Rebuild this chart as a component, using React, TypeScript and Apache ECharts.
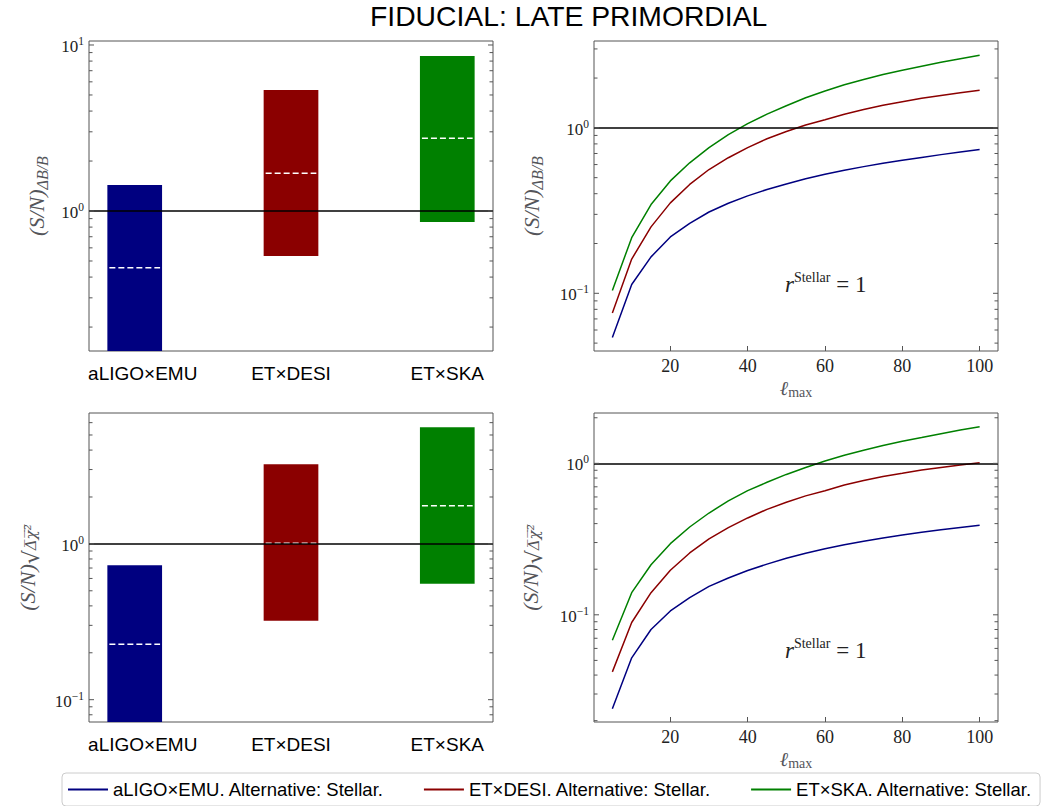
import React, { useEffect, useRef } from "react";
import * as echarts from "echarts";

// ---------- data ----------
const categories = ["aLIGO×EMU", "ET×DESI", "ET×SKA"];
const seriesNames = [
  "aLIGO×EMU. Alternative: Stellar.",
  "ET×DESI. Alternative: Stellar.",
  "ET×SKA. Alternative: Stellar.",
];
const colors = ["#000080", "#8b0000", "#008000"];

// top-left: (S/N)_{ΔB/B} ranges per experiment pair
const dbLow = [0.05, 0.536, 0.859];
const dbHigh = [1.435, 5.36, 8.59];
const dbMid = [0.456, 1.69, 2.74];
// bottom-left: (S/N)_{sqrt(Δχ²)} ranges
const chiLow = [0.03, 0.321, 0.554];
const chiHigh = [0.73, 3.24, 5.6];
const chiMid = [0.227, 1.01, 1.76];

const lmax = [5, 10, 15, 20, 25, 30, 35, 40, 45, 50, 55, 60, 65, 70, 75, 80, 85, 90, 95, 100];
const dbEMU = [0.054, 0.113, 0.166, 0.219, 0.265, 0.31, 0.35, 0.388, 0.424, 0.458, 0.492, 0.525, 0.555, 0.583, 0.611, 0.637, 0.663, 0.689, 0.714, 0.739];
const dbDESI = [0.076, 0.161, 0.252, 0.352, 0.455, 0.56, 0.66, 0.76, 0.86, 0.95, 1.04, 1.12, 1.21, 1.29, 1.37, 1.44, 1.51, 1.57, 1.63, 1.69];
const dbSKA = [0.104, 0.217, 0.344, 0.478, 0.615, 0.76, 0.91, 1.06, 1.21, 1.36, 1.52, 1.67, 1.82, 1.96, 2.1, 2.23, 2.36, 2.49, 2.62, 2.75];
const chiEMU = [0.024, 0.052, 0.08, 0.106, 0.13, 0.154, 0.175, 0.196, 0.216, 0.236, 0.255, 0.273, 0.29, 0.306, 0.322, 0.337, 0.351, 0.364, 0.377, 0.39];
const chiDESI = [0.042, 0.089, 0.14, 0.197, 0.256, 0.317, 0.376, 0.436, 0.497, 0.553, 0.61, 0.66, 0.72, 0.77, 0.82, 0.86, 0.905, 0.94, 0.975, 1.01];
const chiSKA = [0.068, 0.14, 0.214, 0.295, 0.38, 0.47, 0.565, 0.66, 0.75, 0.845, 0.94, 1.035, 1.13, 1.22, 1.31, 1.4, 1.48, 1.57, 1.66, 1.745];

// axis limits and ticks
const barXRange = [-0.2925, 2.2925];
const lXRange = [0.25, 104.75];
const lTicks = [20, 40, 60, 80, 100];
const yRangeTL = [0.1435, 10.57];
const yRangeTR = [0.0448, 3.35];
const yRangeBL = [0.0719, 6.92];
const yRangeBR = [0.0196, 2.15];
const majorTL = [1, 10];
const minorTL = [0.2, 0.3, 0.4, 0.5, 0.6, 0.7, 0.8, 0.9, 2, 3, 4, 5, 6, 7, 8, 9];
const majorTR = [0.1, 1];
const minorTR = [0.05, 0.06, 0.07, 0.08, 0.09, 0.2, 0.3, 0.4, 0.5, 0.6, 0.7, 0.8, 0.9, 2, 3];
const majorBL = [0.1, 1];
const minorBL = [0.08, 0.09, 0.2, 0.3, 0.4, 0.5, 0.6, 0.7, 0.8, 0.9, 2, 3, 4, 5, 6];
const majorBR = [0.1, 1];
const minorBR = [0.02, 0.03, 0.04, 0.05, 0.06, 0.07, 0.08, 0.09, 0.2, 0.3, 0.4, 0.5, 0.6, 0.7, 0.8, 0.9, 2];

const SERIF = "'Liberation Serif', 'DejaVu Serif', serif";
const SANS = "'Liberation Sans', 'DejaVu Sans', sans-serif";
const SPINE = "#555555";

const tickRich = {
  b: { fontFamily: SERIF, fontSize: 17, lineHeight: 20, verticalAlign: "bottom", fill: "#222" },
  s: { fontFamily: SERIF, fontSize: 11.5, lineHeight: 20, verticalAlign: "top", fill: "#222" },
};

function powLabel(v: number) {
  const e = Math.round(Math.log10(v));
  return `{b|10}{s|${e < 0 ? "\u2212" + -e : e}}`;
}

function tickRender(params: any, api: any) {
  const cs = params.coordSys;
  const v = api.value(1);
  const major = api.value(2) === 1;
  const y = api.coord([api.value(0), v])[1];
  const len = major ? 5 : 3.5;
  const st = { stroke: SPINE, lineWidth: 1 };
  const children: any[] = [
    { type: "line", shape: { x1: cs.x, y1: y, x2: cs.x + len, y2: y }, style: st },
    { type: "line", shape: { x1: cs.x + cs.width - len, y1: y, x2: cs.x + cs.width, y2: y }, style: st },
  ];
  if (major) {
    children.push({
      type: "text",
      x: cs.x - 5,
      y,
      style: { text: powLabel(v), align: "right", verticalAlign: "middle", rich: tickRich },
    });
  }
  return { type: "group", children };
}

function barRender(params: any, api: any) {
  const cs = params.coordSys;
  const x = api.value(0);
  const low = api.value(1);
  const high = api.value(2);
  const mid = api.value(3);
  const pL = api.coord([x - 0.175, low]);
  const pR = api.coord([x + 0.175, high]);
  const pM = api.coord([x, mid]);
  const bottom = Math.min(pL[1], cs.y + cs.height);
  const top = Math.max(pR[1], cs.y);
  return {
    type: "group",
    children: [
      { type: "rect", shape: { x: pL[0], y: top, width: pR[0] - pL[0], height: bottom - top }, style: { fill: colors[params.dataIndex] } },
      {
        type: "line",
        shape: { x1: pL[0] + 2, y1: pM[1], x2: pR[0] - 2, y2: pM[1] },
        style: { stroke: "#ffffff", lineWidth: 1.5, lineDash: [6, 3] },
      },
    ],
  };
}

const unityLine = {
  silent: true,
  symbol: ["none", "none"],
  label: { show: false },
  lineStyle: { color: "#000", width: 1.6, type: "solid" },
  data: [{ yAxis: 1 }],
};

function tickData(xv: number, major: number[], minor: number[]) {
  return [...major.map((v) => [xv, v, 1]), ...minor.map((v) => [xv, v, 0])];
}

const nameRichDB = {
  i: { fontFamily: SERIF, fontStyle: "italic", fontSize: 22, fill: "#222" },
  s: { fontFamily: SERIF, fontStyle: "italic", fontSize: 16, fill: "#222", padding: [11, 0, 0, 0] },
};
const nameRichChi = {
  i: { fontFamily: SERIF, fontStyle: "italic", fontSize: 22, fill: "#222" },
  r: { fontFamily: "'DejaVu Serif', serif", fontSize: 22, fill: "#222", padding: [8, 0, 0, 0] },
  s: { fontFamily: "'DejaVu Serif', serif", fontStyle: "italic", fontSize: 15, fill: "#222", padding: [8, 0, 0, 0] },
};
const lRich = {
  l: { fontFamily: "'DejaVu Serif', serif", fontStyle: "italic", fontSize: 20, fill: "#222" },
  s: { fontFamily: SERIF, fontSize: 14, fill: "#222", padding: [8, 0, 0, 0] },
};
const annRich = {
  i: { fontFamily: SERIF, fontStyle: "italic", fontSize: 23, fill: "#222", verticalAlign: "bottom", lineHeight: 26 },
  s: { fontFamily: SERIF, fontSize: 14, fill: "#222", verticalAlign: "top", lineHeight: 26 },
  n: { fontFamily: SERIF, fontSize: 23, fill: "#222", verticalAlign: "bottom", lineHeight: 26 },
};

function xBar(gridIndex: number) {
  return {
    type: "value",
    gridIndex,
    min: barXRange[0],
    max: barXRange[1],
    axisLine: { show: false },
    axisTick: { show: false },
    splitLine: { show: false },
    axisLabel: {
      customValues: [0, 1, 2],
      formatter: (v: number) => {
        const i = Math.round(v);
        return i === 0 ? `{p|${categories[i]}}` : `{q|${categories[i]}}`;
      },
      rich: {
        p: { fontFamily: SANS, fontSize: 19, color: "#000", padding: [0, 0, 0, 16] },
        q: { fontFamily: SANS, fontSize: 19, color: "#000" },
      },
      fontFamily: SANS,
      fontSize: 19,
      color: "#000",
      margin: 13,
    },
  };
}
function xL(gridIndex: number) {
  return {
    type: "value",
    gridIndex,
    min: lXRange[0],
    max: lXRange[1],
    axisLine: { show: false },
    splitLine: { show: false },
    axisTick: { show: true, inside: true, length: 5, customValues: lTicks, lineStyle: { color: SPINE } },
    axisLabel: { customValues: lTicks, fontFamily: SERIF, fontSize: 18, color: "#222", margin: 6 },
    name: "{l|ℓ}{s|max}",
    nameLocation: "middle",
    nameGap: 26,
    nameTextStyle: { rich: lRich },
  };
}
function yLog(gridIndex: number, r: number[], name: string, gap: number, rich: any) {
  return {
    type: "log",
    logBase: 10,
    gridIndex,
    min: r[0],
    max: r[1],
    axisLine: { show: false },
    axisTick: { show: false },
    axisLabel: { show: false },
    splitLine: { show: false },
    name,
    nameLocation: "middle",
    nameGap: gap,
    nameTextStyle: { rich },
  };
}

function lineSeries(name: string, color: string, vals: number[], ax: number, mark: boolean) {
  return {
    type: "line",
    name,
    xAxisIndex: ax,
    yAxisIndex: ax,
    symbol: "none",
    color,
    lineStyle: { color, width: 1.5 },
    data: lmax.map((l, i) => [l, vals[i]]),
    z: 3,
    ...(mark ? { markLine: unityLine } : {}),
  };
}

export default function App() {
  const ref = useRef<HTMLDivElement>(null);
  useEffect(() => {
    if (!ref.current) return;
    const chart = echarts.init(ref.current, undefined, { renderer: "svg" });
    const gridBase = { show: true, borderColor: SPINE, borderWidth: 1, backgroundColor: "transparent", containLabel: false };
    const option: any = {
      animation: false,
      backgroundColor: "#fff",
      title: {
        text: "FIDUCIAL: LATE PRIMORDIAL",
        left: 370,
        top: 2,
        padding: 0,
        textStyle: { fontFamily: SANS, fontSize: 28.3, fontWeight: "normal", color: "#000" },
      },
      legend: {
        data: seriesNames.map((n) => ({ name: n, icon: "rect" })),
        left: 62,
        top: 773,
        orient: "horizontal",
        itemWidth: 40,
        itemHeight: 2,
        itemGap: 40,
        padding: [7, 8, 7, 6],
        borderColor: "#cccccc",
        borderWidth: 1,
        borderRadius: 4,
        textStyle: { fontFamily: SANS, fontSize: 18.5, color: "#000" },
      },
      grid: [
        { ...gridBase, left: 89, top: 41, width: 404, height: 310 },
        { ...gridBase, left: 594, top: 41, width: 404, height: 310 },
        { ...gridBase, left: 89, top: 413, width: 404, height: 309 },
        { ...gridBase, left: 594, top: 413, width: 404, height: 309 },
      ],
      xAxis: [xBar(0), xL(1), xBar(2), xL(3)],
      yAxis: [
        yLog(0, yRangeTL, "{i|(S/N)}{s|ΔB/B}", 39, nameRichDB),
        yLog(1, yRangeTR, "{i|(S/N)}{s|ΔB/B}", 49, nameRichDB),
        yLog(2, yRangeBL, "{i|(S/N)}{r|√}{s|Δ̅χ̅²̅}", 47, nameRichChi),
        yLog(3, yRangeBR, "{i|(S/N)}{r|√}{s|Δ̅χ̅²̅}", 49, nameRichChi),
      ],
      graphic: [
        { type: "text", left: 785, top: 270, style: { text: "{i|r}{s|Stellar}{n| = 1}", rich: annRich } },
        { type: "text", left: 785, top: 636, style: { text: "{i|r}{s|Stellar}{n| = 1}", rich: annRich } },
      ],
      series: [
        {
          type: "custom",
          name: "barsDB",
          xAxisIndex: 0,
          yAxisIndex: 0,
          renderItem: barRender,
          encode: { x: 0, y: [1, 2, 3] },
          data: categories.map((c, i) => [i, dbLow[i], dbHigh[i], dbMid[i]]),
          z: 2,
          markLine: unityLine,
        },
        {
          type: "custom",
          name: "barsChi",
          xAxisIndex: 2,
          yAxisIndex: 2,
          renderItem: barRender,
          encode: { x: 0, y: [1, 2, 3] },
          data: categories.map((c, i) => [i, chiLow[i], chiHigh[i], chiMid[i]]),
          z: 2,
          markLine: unityLine,
        },
        lineSeries(seriesNames[0], colors[0], dbEMU, 1, true),
        lineSeries(seriesNames[1], colors[1], dbDESI, 1, false),
        lineSeries(seriesNames[2], colors[2], dbSKA, 1, false),
        lineSeries(seriesNames[0], colors[0], chiEMU, 3, true),
        lineSeries(seriesNames[1], colors[1], chiDESI, 3, false),
        lineSeries(seriesNames[2], colors[2], chiSKA, 3, false),
        ...[
          [0, barXRange[0], majorTL, minorTL],
          [1, lXRange[0], majorTR, minorTR],
          [2, barXRange[0], majorBL, minorBL],
          [3, lXRange[0], majorBR, minorBR],
        ].map(([ax, xv, mj, mn]: any) => ({
          type: "custom",
          name: "ticks" + ax,
          xAxisIndex: ax,
          yAxisIndex: ax,
          renderItem: tickRender,
          encode: { x: 0, y: 1 },
          data: tickData(xv, mj, mn),
          silent: true,
          z: 6,
        })),
      ],
    };
    chart.setOption(option);
    return () => chart.dispose();
  }, []);
  return (
    <div
      ref={ref}
      style={{ position: "fixed", left: 0, top: 0, width: 1043, height: 806, background: "#fff" }}
    />
  );
}
